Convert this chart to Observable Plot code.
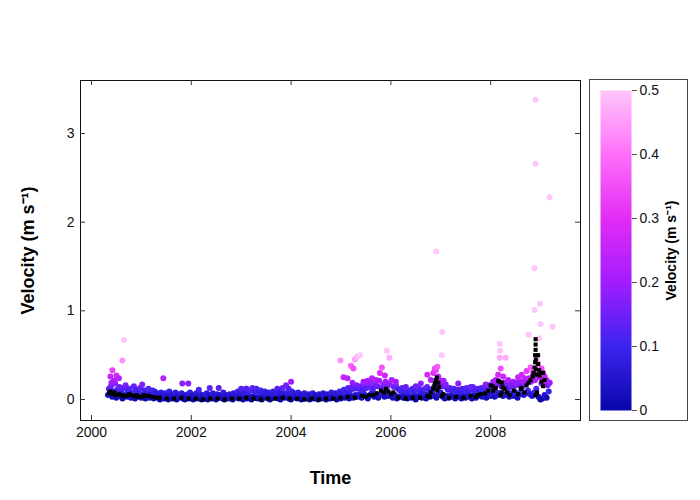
<!DOCTYPE html>
<html>
<head>
<meta charset="utf-8">
<script src="https://cdn.jsdelivr.net/npm/d3@7"></script>
<script src="https://cdn.jsdelivr.net/npm/@observablehq/plot@0.6"></script>
<style>
  html, body { margin: 0; padding: 0; background: white; }
  #wrap { position: relative; width: 700px; height: 500px; font-family: "Liberation Sans", Arial, sans-serif; }
  #main { position: absolute; left: 0; top: 0; }
  #cbar { position: absolute; left: 589px; top: 79px; }
  #cbox { position: absolute; left: 589px; top: 79px; width: 97px; height: 340px; border: 1px solid #444; pointer-events: none; }
</style>
</head>
<body>
<div id="wrap"><div id="main"></div><div id="cbar"></div><div id="cbox"></div></div>
<script>
// ---- data (decimal years, velocity in m/s) ----
const bandStart = 2000.33;     // low band sampled twice a month
const bandStep = 1 / 24;
const lowBand = [
  0.05,0.08,0.03,0.06,0.02,0.07,0.04,0.01,0.05,0.03,0.06,0.02,0.04,0.01,0.05,0.03,0.02,0.06,0.01,0.04,0.02,0.03,0.01,0.04,
  0.02,0.00,0.03,0.01,0.04,0.00,0.02,0.01,0.03,0.00,0.02,0.04,0.01,0.00,0.03,0.01,0.02,0.00,0.04,0.01,0.02,0.00,0.03,0.01,
  0.00,0.02,0.01,0.03,0.00,0.02,0.04,0.01,0.00,0.03,0.01,0.02,0.00,0.04,0.02,0.01,0.03,0.00,0.02,0.01,0.04,0.00,0.03,0.02,
  0.01,0.03,0.00,0.02,0.04,0.01,0.00,0.03,0.02,0.05,0.01,0.00,0.03,0.02,0.04,0.01,0.00,0.02,0.03,0.01,0.04,0.00,0.02,0.01,
  0.03,0.00,0.02,0.01,0.04,0.00,0.03,0.01,0.02,0.00,0.04,0.01,0.03,0.02,0.00,0.05,0.01,0.03,0.02,0.06,0.01,0.04,0.02,0.05,
  0.03,0.06,0.02,0.07,0.04,0.01,0.05,0.08,0.03,0.06,0.02,0.05,0.07,0.03,0.09,0.04,0.06,0.02,0.05,0.01,0.03,0.04,0.02,0.03,
  0.01,0.03,0.02,0.04,0.00,0.03,0.05,0.02,0.04,0.01,0.06,0.03,0.07,0.04,0.02,0.05,0.08,0.03,0.01,0.04,0.02,0.05,0.03,0.01,
  0.03,0.05,0.01,0.04,0.02,0.06,0.03,0.01,0.05,0.02,0.04,0.06,0.03,0.05,0.02,0.07,0.04,0.06,0.03,0.08,0.05,0.07,0.04,0.06,
  0.05,0.03,0.07,0.04,0.08,0.02,0.06,0.09,0.05,0.07,0.10,0.06,0.04,0.08,0.12,0.03,0.00,0.01,0.05,0.02,0.09
];
const midStart = 2000.35;
const midBand = [
  0.12,0.15,0.09,0.18,0.11,0.14,0.08,0.13,0.16,0.10,0.12,0.07,0.15,0.11,0.09,0.13,0.17,0.10,0.08,0.12,0.06,0.10,0.09,0.07,
  0.06,0.08,0.05,0.07,0.04,0.09,0.06,0.05,0.08,0.04,0.06,0.07,0.05,0.03,0.06,0.08,0.04,0.05,0.07,0.04,0.06,0.03,0.05,0.07,
  0.05,0.04,0.07,0.03,0.06,0.05,0.04,0.08,0.05,0.03,0.06,0.04,0.07,0.05,0.09,0.06,0.11,0.07,0.12,0.08,0.10,0.13,0.09,0.12,
  0.08,0.10,0.08,0.09,0.07,0.08,0.06,0.09,0.07,0.12,0.08,0.06,0.07,0.05,0.08,0.06,0.09,0.07,0.05,0.08,0.06,0.04,0.07,0.05,
  0.06,0.04,0.07,0.05,0.03,0.06,0.04,0.07,0.05,0.06,0.04,0.08,0.05,0.07,0.06,0.09,0.07,0.11,0.08,0.13,0.10,0.14,0.12,0.16,
  0.12,0.15,0.11,0.17,0.13,0.19,0.14,0.12,0.18,0.15,0.21,0.13,0.17,0.20,0.15,0.18,0.22,0.14,0.16,0.12,0.10,0.13,0.09,0.11,
  0.08,0.10,0.12,0.09,0.11,0.13,0.10,0.08,0.12,0.14,0.11,0.09,0.13,0.16,0.12,0.18,0.15,0.21,0.14,0.11,0.13,0.10,0.12,0.09,
  0.11,0.08,0.12,0.10,0.13,0.09,0.11,0.14,0.10,0.12,0.09,0.13,0.11,0.15,0.12,0.16,0.13,0.18,0.15,0.21,0.17,0.14,0.19,0.16,
  0.13,0.17,0.14,0.19,0.16,0.21,0.18,0.15,0.22,0.19,0.24,0.20,0.26,0.22,0.28,0.25,0.18,0.23,0.20,0.16,0.19
];
const highT = [
  2000.42,2000.38,2000.50,2000.55,2000.40,2000.62,2000.65,2000.45,
  2001.44,2001.82,2001.94,2002.15,2002.37,2002.55,
  2003.00,2003.10,2003.83,2003.90,2004.00,2003.95,
  2004.99,2005.20,2005.25,2005.28,2005.32,2005.38,2005.05,2005.13,2005.23,2005.53,2005.62,2005.70,2005.78,2005.82,2005.92,2005.97,2005.88,2005.60,2005.45,
  2006.10,2006.30,2006.50,
  2006.60,2006.73,2006.80,2006.85,2006.88,2006.90,2006.91,2006.93,2006.95,2007.02,2007.03,2006.97,2007.10,2007.35,2007.60,2007.90,
  2008.05,2008.10,2008.18,2008.19,2008.18,2008.30,2008.20,2008.25,2008.15,2008.35,2008.45,2008.55,2008.62,2008.68,2008.72,2008.76,2008.80,2008.85,
  2008.88,2008.88,2008.90,2008.90,2008.92,2008.95,2008.97,2008.99,2009.00,2009.02,2009.05,2009.08,2009.18,2009.24,2009.12,2008.65,2008.50,2008.40
];
const highV = [
  0.33,0.26,0.27,0.24,0.19,0.44,0.67,0.21,
  0.24,0.18,0.18,0.11,0.13,0.13,
  0.12,0.12,0.13,0.16,0.20,0.12,
  0.44,0.38,0.35,0.45,0.48,0.50,0.25,0.24,0.19,0.21,0.24,0.22,0.30,0.36,0.55,0.47,0.27,0.18,0.20,
  0.20,0.14,0.15,
  0.18,0.28,0.22,0.30,0.35,0.33,1.67,0.37,0.26,0.50,0.76,0.22,0.17,0.18,0.14,0.17,
  0.20,0.22,0.63,0.55,0.47,0.47,0.35,0.26,0.28,0.22,0.20,0.25,0.28,0.24,0.32,0.73,0.36,0.30,
  1.48,1.01,3.38,2.66,0.45,0.40,0.69,1.08,0.85,0.35,0.30,0.26,2.28,0.82,0.22,0.20,0.18,0.16
];
const blackStart = 2000.35;
const blackStep = 0.145;
const blackV = [
  0.07,0.05,0.04,0.05,0.03,0.04,0.03,0.02,0.01,0.01,0.02,0.01,0.01,0.00,0.01,0.01,0.00,0.01,0.01,0.02,
  0.01,0.00,0.01,0.01,0.02,0.01,0.01,0.00,0.01,0.00,0.01,0.01,0.02,0.03,0.02,0.04,0.05,0.07,0.08,0.06,
  0.02,0.01,0.02,0.02,0.04,0.15,0.04,0.02,0.03,0.02,0.04,0.05,0.07,0.15,0.20,0.08,0.10,0.13,0.19,0.45,0.30
];
const blackExtraT = [
  2000.38,2000.42,2000.46,2000.55,2000.60,2000.70,2000.75,2000.85,2000.90,2001.00,2001.05,2001.15,2001.30,
  2005.65,2005.80,2005.90,2005.95,2006.05,2005.50,
  2006.80,2006.85,2006.88,2006.90,2006.92,2006.95,2006.97,2006.93,2007.05,2006.78,
  2007.70,2007.80,2007.95,2008.00,
  2008.05,2008.10,2008.15,2008.22,2008.24,2008.22,2008.20,2008.28,2008.38,
  2008.55,2008.60,2008.68,2008.72,2008.80,2008.84,2008.86,2008.88,2008.89,2008.89,2008.90,2008.90,2008.90,
  2008.91,2008.92,2008.95,2008.95,2008.97,2008.98,2009.00,2009.02,2009.05,2009.08,2008.93,2008.90
];
const blackExtraV = [
  0.09,0.06,0.08,0.06,0.05,0.04,0.06,0.04,0.05,0.03,0.05,0.04,0.02,
  0.05,0.10,0.12,0.09,0.08,0.03,
  0.08,0.12,0.18,0.22,0.25,0.19,0.14,0.10,0.06,0.03,
  0.03,0.06,0.10,0.16,
  0.10,0.13,0.21,0.19,0.14,0.08,0.05,0.12,0.05,
  0.06,0.12,0.08,0.16,0.22,0.26,0.30,0.36,0.42,0.50,0.56,0.62,0.68,
  0.34,0.28,0.50,0.40,0.33,0.27,0.30,0.20,0.15,0.22,0.08,0.05
];
const xTicks = [2000, 2002, 2004, 2006, 2008];
const yTicks = [0, 1, 2, 3];
const cTicks = [0, 0.1, 0.2, 0.3, 0.4, 0.5];
const colorStops = [0, 0.1, 0.2, 0.3, 0.4, 0.5];
const colorRange = ["#0a06aa", "#3d24f0", "#a21cff", "#e22cf5", "#ff70f9", "#ffc6fb"];
const yTitle = "Velocity (m s\u207B\u00B9)";

// ---- build tables ----
const points = [
  ...lowBand.map((v, i) => ({t: bandStart + i * bandStep, v})),
  ...midBand.map((v, i) => ({t: midStart + i * bandStep, v})),
  ...highT.map((t, i) => ({t, v: highV[i]}))
];
const black = [
  ...blackV.map((v, i) => ({t: blackStart + i * blackStep, v})),
  ...blackExtraT.map((t, i) => ({t, v: blackExtraV[i]}))
];
const colorScale = {type: "linear", domain: colorStops, range: colorRange, interpolate: "rgb", clamp: true};
const font = {fontFamily: "'Liberation Sans', Arial, sans-serif", fontSize: "14px", background: "white", color: "#111"};

const W = 700, H = 500, mL = 80, mR = 120, mT = 80, mB = 80;
const pw = W - mL - mR, ph = H - mT - mB;

const main = Plot.plot({
  width: W, height: H, marginLeft: mL, marginRight: mR, marginTop: mT, marginBottom: mB,
  style: font,
  x: {domain: [1999.78, 2009.8]},
  y: {domain: [-0.237, 3.598]},
  color: colorScale,
  marks: [
    Plot.dot(points, {x: "t", y: "v", fill: "v", r: 3}),
    Plot.dot(black, {x: "t", y: "v", fill: "black", symbol: "square", r: 2.3}),
    Plot.frame({stroke: "#111", strokeWidth: 1}),
    Plot.axisX({ticks: xTicks, tickSize: 0, tickPadding: 7, tickFormat: d => String(d), label: null, fontSize: 14}),
    Plot.axisY({ticks: yTicks, tickSize: 0, tickPadding: 6, tickFormat: d => String(d), label: null, fontSize: 14}),
    Plot.tickX(xTicks, {x: d => d, insetTop: ph - 5, stroke: "#333"}),
    Plot.tickX(xTicks, {x: d => d, insetBottom: ph - 5, stroke: "#333"}),
    Plot.tickY(yTicks, {y: d => d, insetRight: pw - 5, stroke: "#333"}),
    Plot.tickY(yTicks, {y: d => d, insetLeft: pw - 5, stroke: "#333"}),
    Plot.text(["Time"], {frameAnchor: "bottom", dy: 63, fontSize: 18, fontWeight: "bold", fill: "#000"}),
    Plot.text([yTitle], {frameAnchor: "left", textAnchor: "middle", dx: -52, rotate: -90, fontSize: 18, fontWeight: "bold", fill: "#000"})
  ]
});
document.getElementById("main").append(main);

// ---- colour bar ----
const cbar = Plot.plot({
  width: 99, height: 342, marginLeft: 11, marginRight: 57, marginTop: 11, marginBottom: 11,
  style: font,
  x: {domain: [0, 1], axis: null},
  y: {domain: [0, 0.5]},
  color: colorScale,
  marks: [
    Plot.raster({x1: 0, x2: 1, y1: 0, y2: 0.5, width: 1, height: 320, fill: (x, y) => y}),
    Plot.axisY({anchor: "right", ticks: cTicks, tickSize: 5, tickPadding: 3, tickFormat: d => String(d), label: null, fontSize: 14, stroke: "#555"}),
    Plot.text([yTitle], {frameAnchor: "right", textAnchor: "middle", dx: 40, rotate: -90, fontSize: 14, fontWeight: "bold", fill: "#000"})
  ]
});
document.getElementById("cbar").append(cbar);
</script>
</body>
</html>
